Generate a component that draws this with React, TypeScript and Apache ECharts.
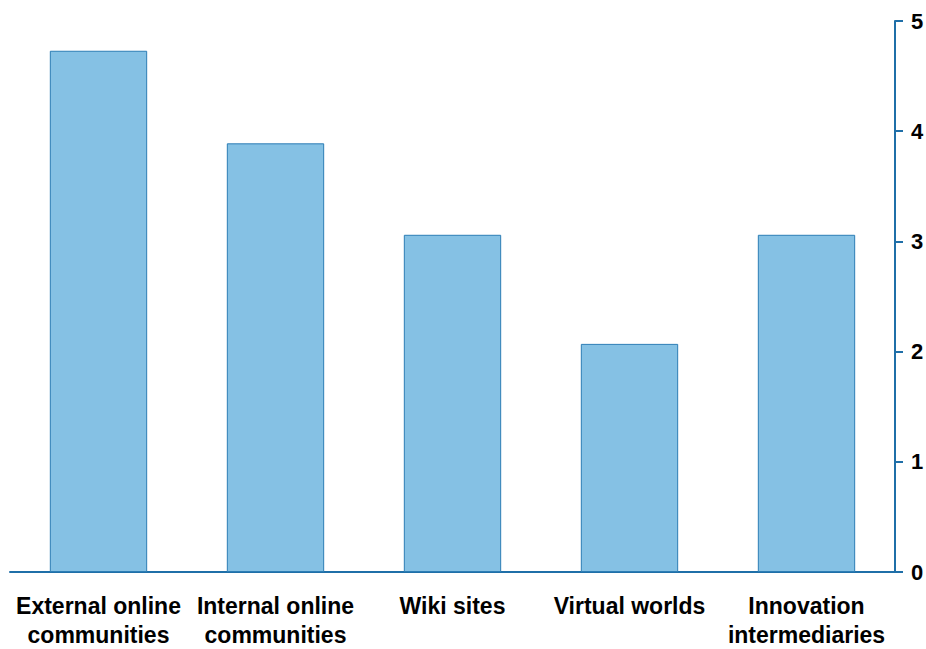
import React, { useEffect, useRef } from "react";
import * as echarts from "echarts";

const categories = [
  "External online\ncommunities",
  "Internal online\ncommunities",
  "Wiki sites",
  "Virtual worlds",
  "Innovation\nintermediaries",
];
const values = [4.73, 3.89, 3.06, 2.07, 3.06];
const yTicks = [0, 1, 2, 3, 4, 5];

export default function App() {
  const ref = useRef<HTMLDivElement>(null);
  useEffect(() => {
    if (!ref.current) return;
    const chart = echarts.init(ref.current, undefined, { renderer: "svg" });
    chart.setOption({
      animation: false,
      grid: { left: 10, right: 31, top: 21, bottom: 77, containLabel: false, outerBoundsMode: "none" },
      xAxis: {
        type: "category",
        data: categories,
        axisLine: { show: true, lineStyle: { color: "#1F6FA8", width: 2 } },
        axisTick: { show: false },
        axisLabel: {
          interval: 0,
          color: "#000",
          fontFamily: "Liberation Sans, Arial, sans-serif",
          fontWeight: "bold",
          fontSize: 23,
          lineHeight: 29,
          margin: 19,
        },
      },
      yAxis: {
        type: "value",
        position: "right",
        min: yTicks[0],
        max: yTicks[yTicks.length - 1],
        interval: 1,
        splitLine: { show: false },
        axisLine: { show: true, lineStyle: { color: "#1F6FA8", width: 2 } },
        axisTick: { show: true, length: 8, lineStyle: { color: "#1F6FA8", width: 2 } },
        axisLabel: {
          color: "#000",
          fontFamily: "Liberation Sans, Arial, sans-serif",
          fontWeight: "bold",
          fontSize: 22,
          margin: 16,
        },
      },
      series: [
        {
          type: "bar",
          data: values,
          barWidth: "55%",
          itemStyle: { color: "#85C1E4", borderColor: "#2C7DB5", borderWidth: 1 },
        },
      ],
    });
    return () => chart.dispose();
  }, []);
  return <div ref={ref} style={{ width: 926, height: 649, position: "absolute", left: 0, top: 0 }} />;
}
